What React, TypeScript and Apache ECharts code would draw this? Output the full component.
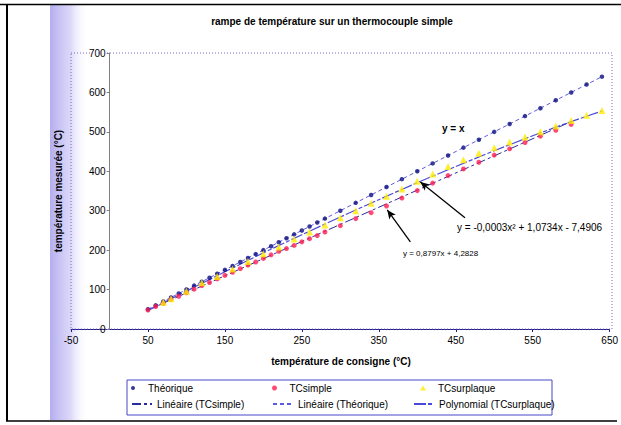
import React, { useEffect, useRef } from "react";
import * as echarts from "echarts";

const titleText = "rampe de température sur un thermocouple simple";
const xAxisName = "température de consigne (°C)";
const yAxisName = "température mesurée (°C)";

// Théorique (y = x)
const theoX = [50, 60, 70, 80, 90, 100, 110, 120, 130, 140, 150, 160, 170, 180, 190, 200, 210, 220, 230, 240, 250, 260, 270, 280, 300, 320, 340, 360, 380, 400, 420, 440, 460, 480, 500, 520, 540, 560, 580, 600, 620, 640];
const theoY = [50, 60, 70, 80, 90, 100, 110, 120, 130, 140, 150, 160, 170, 180, 190, 200, 210, 220, 230, 240, 250, 260, 270, 280, 300, 320, 340, 360, 380, 400, 420, 440, 460, 480, 500, 520, 540, 560, 580, 600, 620, 640];

// TCsimple
const simpleX = [50, 60, 70, 80, 90, 100, 110, 120, 130, 140, 150, 160, 170, 180, 190, 200, 210, 220, 230, 240, 250, 260, 270, 280, 300, 320, 340, 360, 380, 400, 420, 440, 460, 480, 500, 520, 540, 560, 580, 600];
const simpleY = [48, 57, 65, 75, 83, 92, 101, 110, 118, 127, 136, 144, 153, 162, 170, 179, 188, 197, 204, 212, 221, 229, 237, 246, 262, 280, 295, 312, 332, 351, 370, 389, 406, 423, 441, 457, 473, 489, 504, 519];

// TCsurplaque
const plaqueX = [70, 80, 100, 120, 140, 160, 180, 200, 220, 240, 260, 280, 300, 320, 340, 360, 380, 400, 420, 440, 460, 480, 500, 520, 540, 560, 580, 600, 620, 640];
const plaqueY = [68, 77, 96, 117, 133, 152, 171, 191, 208, 228, 246, 264, 282, 300, 319, 337, 355, 375, 393, 412, 429, 446, 460, 474, 487, 500, 515, 529, 542, 554];

// Trend lines
const trendTheoX = [50, 640];
const trendTheoY = [50, 640];
const trendSimpleX = [50, 600];
const trendSimpleY = [48, 526];
const polyX = [50, 100, 150, 200, 250, 300, 350, 400, 450, 500, 550, 600, 640];
const polyY = [47, 96, 145, 193, 239, 284, 328, 371, 412, 452, 490, 526, 553];

// Annotations
const eqTheo = "y = x";
const eqPoly = "y = -0,0003x² + 1,0734x - 7,4906";
const eqSimple = "y = 0,8797x + 4,2828";
const arrowPoly = [[462, 282], [404, 373]];
const arrowSimple = [[391, 221], [361, 302]];

const xTicks = { min: -50, max: 650, interval: 100 };
const yTicks = { min: 0, max: 700, interval: 100 };

const FONT = "'Liberation Sans', Arial, sans-serif";

export default function App() {
  const ref = useRef<HTMLDivElement>(null);
  useEffect(() => {
    const chart = echarts.init(ref.current!, null, { renderer: "svg" });
    const zip = (xs: number[], ys: number[]) => xs.map((x, i) => [x, ys[i]]);
    const leg = (
      name: string,
      left: number,
      top: number,
      iw: number,
      ih: number,
      lineOnly: boolean,
      textPadLeft = 0
    ) => ({
      data: [name],
      left,
      top,
      itemWidth: iw,
      itemHeight: ih,
      padding: 0,
      itemGap: 0,
      selectedMode: false,
      ...(lineOnly ? { itemStyle: { color: "rgba(0,0,0,0)", borderWidth: 0, opacity: 0 } } : {}),
      textStyle: { fontSize: 10, fontFamily: FONT, color: "#000", padding: [0, 0, 0, textPadLeft] },
    });
    const gridLeft = 71;
    const gridRight = 9;
    const plotW = 621 - gridLeft - gridRight;
    const zeroOffset = ((0 - xTicks.min) / (xTicks.max - xTicks.min)) * plotW;
    chart.setOption({
      animation: false,
      backgroundColor: "#fff",
      grid: { left: gridLeft, right: gridRight, top: 53, bottom: 96 },
      xAxis: {
        type: "value",
        ...xTicks,
        axisLine: { show: true, lineStyle: { color: "#1c1c8c", width: 1 } },
        axisTick: { show: true, length: 3, lineStyle: { color: "#1c1c8c" } },
        axisLabel: { fontSize: 10, color: "#000", fontFamily: FONT, margin: 6 },
        splitLine: { show: false },
      },
      yAxis: {
        type: "value",
        ...yTicks,
        offset: -zeroOffset,
        axisLine: { show: true, onZero: false, lineStyle: { color: "#808080", width: 1 } },
        axisTick: { show: true, length: 3, lineStyle: { color: "#808080" } },
        axisLabel: { fontSize: 10, color: "#000", fontFamily: FONT, margin: 4 },
        splitLine: { show: false },
      },
      legend: [
        leg("Théorique", 131, 383, 20, 4, false),
        leg("TCsimple", 272, 383, 20, 5, false),
        leg("TCsurplaque", 420, 383, 6, 5, false, 7),
        leg("Linéaire (TCsimple)", 131, 399, 20, 8, true),
        leg("Linéaire (Théorique)", 272, 399, 20, 8, true),
        leg("Polynomial (TCsurplaque)", 413, 399, 20, 8, true),
      ],
      graphic: [
        {
          type: "rect",
          z: 0,
          shape: { x: 50, y: 5, width: 38, height: 415 },
          style: {
            fill: new echarts.graphic.LinearGradient(0, 0, 1, 0, [
              { offset: 0, color: "rgba(175,170,238,0.95)" },
              { offset: 0.55, color: "rgba(205,200,246,0.7)" },
              { offset: 1, color: "rgba(255,255,255,0)" },
            ]),
          },
        },
        { type: "line", z: 0, shape: { x1: 0, y1: 4.5, x2: 621, y2: 4.5 }, style: { stroke: "#000", lineWidth: 1.5 } },
        { type: "line", z: 0, shape: { x1: 7, y1: 4, x2: 7, y2: 421 }, style: { stroke: "#000", lineWidth: 2 } },
        { type: "line", z: 0, shape: { x1: 6, y1: 421, x2: 617, y2: 421 }, style: { stroke: "#000", lineWidth: 1.5 } },
        {
          type: "rect",
          z: 1,
          shape: { x: 71, y: 53, width: 541, height: 276 },
          style: { fill: "none", stroke: "#7a68c8", lineWidth: 1, lineDash: [1, 2] },
        },
        {
          type: "rect",
          z: 1,
          shape: { x: 127, y: 380, width: 425, height: 35 },
          style: { fill: "none", stroke: "#4848c8", lineWidth: 1 },
        },
        {
          type: "text",
          x: 332,
          y: 21,
          style: { text: titleText, font: `bold 10px ${FONT}`, fill: "#000", textAlign: "center", textVerticalAlign: "middle" },
        },
        {
          type: "text",
          x: 58,
          y: 191,
          rotation: Math.PI / 2,
          style: { text: yAxisName, font: `bold 10px ${FONT}`, fill: "#000", textAlign: "center", textVerticalAlign: "middle" },
        },
        {
          type: "text",
          x: 341,
          y: 361,
          style: { text: xAxisName, font: `bold 10px ${FONT}`, fill: "#000", textAlign: "center", textVerticalAlign: "middle" },
        },
        {
          type: "text",
          x: 442,
          y: 128,
          style: { text: eqTheo, font: `bold 10px ${FONT}`, fill: "#000", textAlign: "left", textVerticalAlign: "middle" },
        },
        {
          type: "text",
          x: 457,
          y: 227,
          style: { text: eqPoly, font: `10px ${FONT}`, fill: "#000", textAlign: "left", textVerticalAlign: "middle" },
        },
        {
          type: "text",
          x: 403,
          y: 253,
          style: { text: eqSimple, font: `8px ${FONT}`, fill: "#000", textAlign: "left", textVerticalAlign: "middle" },
        },
      ],
      series: [
        {
          name: "Linéaire (Théorique)",
          type: "line",
          data: zip(trendTheoX, trendTheoY),
          symbol: "none",
          lineStyle: { color: "#5a5ae6", width: 1, type: [4, 3] },
          itemStyle: { color: "#5a5ae6" },
          z: 2,
          markLine: {
            silent: true,
            symbol: ["none", "arrow"],
            symbolSize: [6, 9],
            label: { show: false },
            lineStyle: { color: "#000", width: 1.3, type: "solid" },
            data: [
              [{ coord: arrowPoly[0] }, { coord: arrowPoly[1] }],
              [{ coord: arrowSimple[0] }, { coord: arrowSimple[1] }],
            ],
          },
        },
        {
          name: "Linéaire (TCsimple)",
          type: "line",
          data: zip(trendSimpleX, trendSimpleY),
          symbol: "none",
          lineStyle: { color: "#2a2aa0", width: 1, type: [9, 3, 3, 3] },
          itemStyle: { color: "#2a2aa0" },
          z: 2,
        },
        {
          name: "Polynomial (TCsurplaque)",
          type: "line",
          data: zip(polyX, polyY),
          smooth: 0.3,
          symbol: "none",
          lineStyle: { color: "#4a4ad8", width: 1.2, type: [12, 2, 4, 2] },
          itemStyle: { color: "#4a4ad8" },
          z: 2,
        },
        {
          name: "Théorique",
          type: "scatter",
          data: zip(theoX, theoY),
          symbol: "circle",
          symbolSize: 4.5,
          itemStyle: { color: "#0a0a80" },
          z: 5,
        },
        {
          name: "TCsimple",
          type: "scatter",
          data: zip(simpleX, simpleY),
          symbol: "circle",
          symbolSize: 5,
          itemStyle: { color: "#ff1e50" },
          z: 5,
        },
        {
          name: "TCsurplaque",
          type: "scatter",
          data: zip(plaqueX, plaqueY),
          symbol: "triangle",
          symbolSize: 7,
          itemStyle: { color: "#ffeb00" },
          z: 5,
        },
      ],
    });
    return () => chart.dispose();
  }, []);
  return (
    <div
      ref={ref}
      style={{ position: "absolute", left: 0, top: 0, width: 621, height: 425, background: "#fff" }}
    />
  );
}
